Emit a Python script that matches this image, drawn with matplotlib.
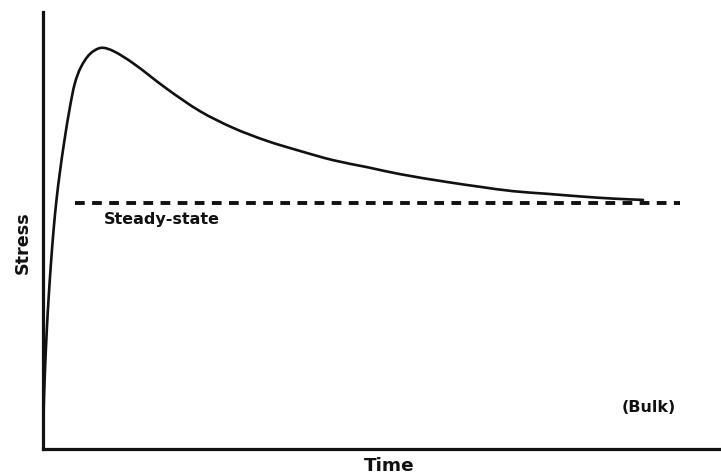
import matplotlib
matplotlib.use("Agg")
import matplotlib.pyplot as plt
import numpy as np
from matplotlib.path import Path
from matplotlib.patches import PathPatch

# Stress response over time (arbitrary units)
time = [0.03, 0.07, 0.24, 0.56, 0.84, 1.18, 1.56, 1.99, 2.48, 3.17, 3.98,
        4.72, 5.60, 6.93, 8.55, 10.32, 13.27, 18.29, 23.16, 28.02, 33.04,
        37.91, 42.77, 47.79, 52.65, 59.59, 64.45, 69.32, 74.34, 79.20,
        84.07, 88.50]
stress = [0.0, 6.6, 15.8, 27.2, 34.8, 42.6, 50.1, 57.0, 63.2, 70.7, 78.3,
          83.8, 87.4, 90.4, 91.8, 91.1, 88.3, 82.4, 77.3, 73.5, 70.5,
          68.2, 66.1, 64.5, 62.9, 61.1, 60.0, 59.0, 58.4, 57.8,
          57.3, 57.0]

steady_level = 56.3
steady_span = [4.7, 94.0]


def smooth_path(xs, ys, x_scale=1.55):
    """Cubic Bezier path through every point (chord-length Hermite tangents)."""
    p = np.column_stack([np.asarray(xs, float) * x_scale, np.asarray(ys, float)])
    d = np.hypot(*np.diff(p, axis=0).T)
    n = len(p)
    m = np.zeros_like(p)
    m[0] = (p[1] - p[0]) / d[0]
    m[-1] = (p[-1] - p[-2]) / d[-1]
    for i in range(1, n - 1):
        m[i] = (p[i + 1] - p[i - 1]) / (d[i - 1] + d[i])
    verts = [p[0]]
    codes = [Path.MOVETO]
    for i in range(n - 1):
        verts += [p[i] + m[i] * d[i] / 3, p[i + 1] - m[i + 1] * d[i] / 3, p[i + 1]]
        codes += [Path.CURVE4] * 3
    verts = np.array(verts)
    verts[:, 0] /= x_scale
    return Path(verts, codes)


fig = plt.figure(figsize=(7.21, 4.76), dpi=100)
ax = fig.add_axes([43 / 721, 27 / 476, 678 / 721, 437 / 476])
ax.set_xlim(0, 100)
ax.set_ylim(0, 100)

ax.add_patch(PathPatch(smooth_path(time, stress), facecolor="none",
                       edgecolor="#111111", lw=1.9, joinstyle="round",
                       capstyle="round"))
ax.plot(steady_span, [steady_level, steady_level], color="#111111", lw=2.8,
        linestyle=(0, (2.5, 1.9)))

font = dict(family="DejaVu Sans", weight="bold", color="#111111")
ax.text(9.0, 52.6, "Steady-state", fontsize=11.5, ha="left", va="center", **font)
ax.text(89.4, 9.6, "(Bulk)", fontsize=11.5, ha="center", va="center", **font)
fig.text(389 / 721, 1 - 466 / 476, "Time", fontsize=13.3, ha="center",
         va="center", **font)
fig.text(23 / 721, 1 - 243 / 476, "Stress", fontsize=12.7, ha="center",
         va="center", rotation=90, **font)

for side in ["top", "right"]:
    ax.spines[side].set_visible(False)
for side in ["left", "bottom"]:
    ax.spines[side].set_linewidth(2.3)
    ax.spines[side].set_color("#111111")
ax.set_xticks([])
ax.set_yticks([])

fig.savefig("out.png", dpi=100)
